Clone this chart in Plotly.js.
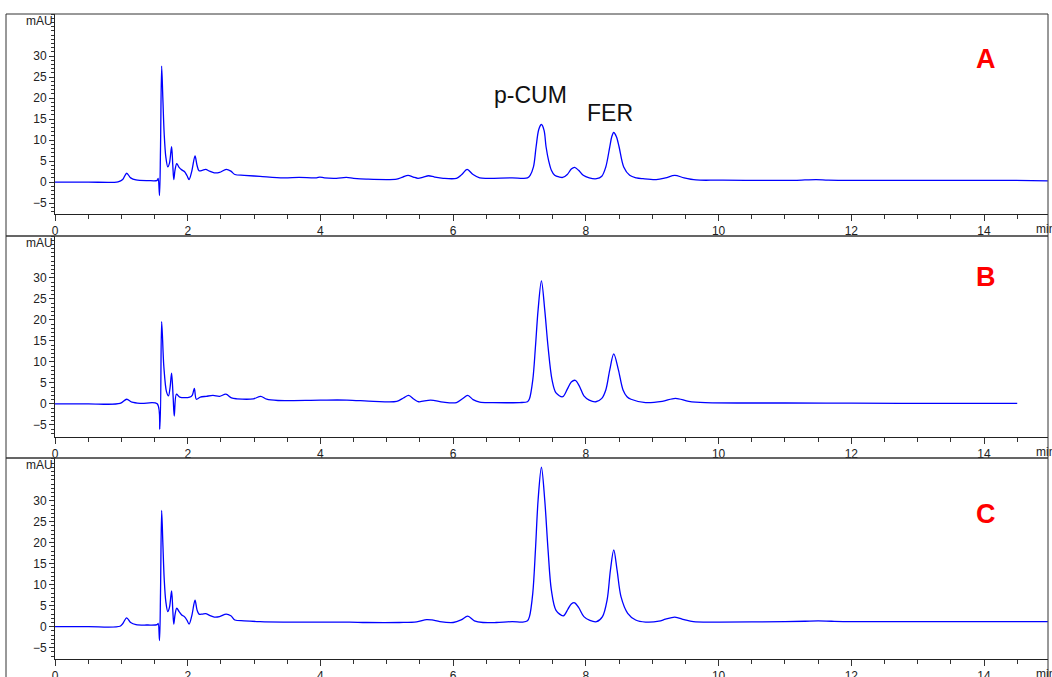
<!DOCTYPE html>
<html>
<head>
<meta charset="utf-8">
<script src="https://cdn.plot.ly/plotly-3.0.1.min.js"></script>
<style>
html,body{margin:0;padding:0;background:#fff;overflow:hidden;}
#chart{width:1052px;height:677px;}
</style>
</head>
<body>
<div id="chart"></div>
<script>
// ---- Data (time in min, signal in mAU) ----
const tA = [0,0.5,0.95,1.02,1.08,1.14,1.22,1.40,1.54,1.555,1.575,1.59,1.607,1.625,1.645,1.67,1.70,1.725,1.757,1.775,1.79,1.81,1.835,1.87,1.91,1.95,1.99,2.02,2.06,2.11,2.14,2.17,2.22,2.27,2.33,2.40,2.48,2.58,2.65,2.71,2.85,3.09,3.44,3.68,3.94,3.99,4.06,4.24,4.39,4.5,4.69,5.15,5.24,5.32,5.40,5.47,5.55,5.63,5.72,5.85,6.05,6.13,6.21,6.30,6.40,6.54,6.89,7.05,7.12,7.16,7.21,7.25,7.29,7.33,7.37,7.40,7.44,7.48,7.53,7.60,7.65,7.72,7.78,7.83,7.89,7.96,8.05,8.16,8.24,8.30,8.36,8.39,8.42,8.46,8.50,8.57,8.66,8.76,8.86,9.06,9.20,9.34,9.48,9.66,10.0,11.12,11.3,11.47,11.65,11.92,13.0,14.43,14.96];
const yA = [0,0,0.05,0.6,2.1,1.0,0.5,0.35,0.4,0.9,-3.2,8,27.6,20,11.6,6,3.6,4.5,8.4,4,0.6,3,4.4,3.5,2.9,2.5,1.5,0.6,2.5,6.2,4,2.7,2.8,3.0,2.6,2.2,2.3,3.0,2.6,1.8,1.6,1.35,1.0,1.1,1.0,1.2,1.0,0.9,1.1,0.9,0.7,0.7,1.2,1.6,1.2,0.9,1.2,1.5,1.2,0.9,0.9,1.8,3.0,1.8,1.0,0.9,1.0,0.9,1.0,1.6,3.6,8.4,12.5,13.7,12.3,8.4,5,2.8,1.6,1.2,1.1,1.8,3.1,3.5,2.8,1.6,1.0,0.8,1.4,3.6,8.4,10.8,11.8,10.8,8.4,3.6,1.6,1.0,0.8,0.6,1.0,1.6,1.0,0.5,0.45,0.4,0.5,0.6,0.45,0.4,0.4,0.4,0.3];

const tB = [0,0.5,0.98,1.08,1.16,1.3,1.54,1.58,1.607,1.64,1.68,1.71,1.735,1.757,1.78,1.797,1.83,1.88,2.03,2.07,2.10,2.13,2.19,2.28,2.38,2.48,2.575,2.66,2.74,2.99,3.10,3.19,3.36,4.0,4.4,4.8,5.15,5.25,5.33,5.41,5.48,5.66,5.85,6.05,6.14,6.22,6.30,6.40,6.6,7.0,7.12,7.15,7.20,7.24,7.28,7.33,7.38,7.43,7.49,7.55,7.65,7.72,7.78,7.84,7.90,7.97,8.05,8.15,8.24,8.30,8.36,8.42,8.49,8.56,8.62,8.68,8.90,9.15,9.35,9.55,9.8,11.0,12.0,13.5,14.5];
const yB = [0,0,0.1,1.1,0.4,0.1,0,-6.0,19.6,8.9,2.9,1.9,4,7.3,1.7,-2.9,2.3,1.6,1.6,2.1,3.7,1.1,1.6,1.8,2.0,1.8,2.3,1.4,1.2,1.2,1.8,1.1,0.8,0.9,0.9,0.6,0.6,1.4,2.0,1.1,0.5,0.9,0.4,0.3,1.2,2.0,1.0,0.4,0.3,0.3,0.5,1.2,5.7,13.6,22.4,29.3,22.4,13.6,5.7,2.6,1.7,3.5,5.2,5.6,4.3,1.9,0.9,0.5,1.3,3.3,8.1,11.9,8.1,3.3,1.7,1.1,0.3,0.6,1.3,0.6,0.3,0.2,0.15,0.1,0.1];

const tC = [0,0.5,0.98,1.02,1.08,1.14,1.22,1.40,1.54,1.555,1.575,1.59,1.607,1.625,1.645,1.67,1.70,1.725,1.757,1.775,1.79,1.81,1.835,1.87,1.91,1.95,1.99,2.02,2.06,2.11,2.14,2.17,2.22,2.27,2.33,2.40,2.48,2.58,2.65,2.71,2.85,3.09,3.44,3.94,4.44,4.69,5.19,5.45,5.60,5.68,5.80,6.0,6.12,6.22,6.32,6.45,6.65,6.89,7.05,7.12,7.15,7.20,7.24,7.28,7.33,7.38,7.43,7.48,7.55,7.66,7.73,7.78,7.83,7.89,7.97,8.06,8.16,8.25,8.32,8.37,8.42,8.47,8.53,8.63,8.75,8.90,9.10,9.20,9.34,9.48,9.62,10.02,11.0,11.3,11.5,11.7,12.0,14.96];
const yC = [0,0,0.1,0.7,2.1,1.0,0.5,0.4,0.5,0.8,-3.3,8,27.7,20,11.6,6,3.6,4.6,8.5,4,0.6,3,4.4,3.6,2.8,2.4,1.5,0.6,2.5,6.3,4,3.0,3.0,3.1,2.7,2.3,2.4,3.0,2.6,1.6,1.4,1.2,1.1,1.1,1.1,1.0,1.0,1.15,1.7,1.6,1.2,1.0,1.6,2.5,1.4,1.0,1.0,1.2,1.1,1.4,2.4,8.0,18.3,30.2,38.0,30.2,18.3,8.7,3.9,2.6,4.2,5.4,5.7,4.6,2.4,1.5,1.2,2.4,6.4,13.5,18.3,13.5,7.1,3.2,1.6,1.1,1.3,1.8,2.3,1.7,1.2,1.1,1.2,1.3,1.4,1.3,1.2,1.2];

const panelLabels = ["A", "B", "C"];
const peakNames = ["p-CUM", "FER"];
const yTickVals = [-5, 0, 5, 10, 15, 20, 25, 30];
const xTickVals = [0, 2, 4, 6, 8, 10, 12, 14];

// ---- Layout geometry (pixels) ----
const W = 1052, H = 677;
const px = v => v / W;
const py = v => (H - v) / H;
const plotLeft = 55, plotRight = 1048, boxLeft = 6;
const panels = [
  {top: 14,  bottom: 214, yr: [-7.6, 40.0], letterY: 59},
  {top: 236, bottom: 437, yr: [-7.9, 40.0], letterY: 277},
  {top: 458, bottom: 659, yr: [-7.7, 40.2], letterY: 514}
];
const boxTops = [14, 236, 458, 690];

const fontFam = '"Liberation Sans", Arial, Helvetica, sans-serif';
const series = [[tA, yA], [tB, yB], [tC, yC]];

const traces = series.map((s, i) => ({
  x: s[0], y: s[1],
  type: 'scatter', mode: 'lines',
  line: {color: '#0000ff', width: 1.3, shape: 'spline', smoothing: 0.9},
  xaxis: i === 0 ? 'x' : 'x' + (i + 1),
  yaxis: i === 0 ? 'y' : 'y' + (i + 1),
  hoverinfo: 'skip', showlegend: false
}));

const layout = {
  width: W, height: H,
  margin: {l: 0, r: 0, t: 0, b: 0, pad: 0},
  paper_bgcolor: '#ffffff', plot_bgcolor: '#ffffff',
  showlegend: false,
  font: {family: fontFam, size: 12, color: '#222'},
  shapes: [], annotations: []
};

panels.forEach((p, i) => {
  const xk = i === 0 ? 'xaxis' : 'xaxis' + (i + 1);
  const yk = i === 0 ? 'yaxis' : 'yaxis' + (i + 1);
  const xa = i === 0 ? 'x' : 'x' + (i + 1);
  const ya = i === 0 ? 'y' : 'y' + (i + 1);
  layout[xk] = {
    domain: [px(plotLeft), px(plotRight)],
    anchor: ya,
    range: [0, (plotRight - plotLeft) / 66.36],
    tickmode: 'array', tickvals: xTickVals,
    ticks: 'outside', ticklen: 6, tickwidth: 1, tickcolor: '#333',
    minor: {tickmode: 'linear', tick0: 0, dtick: 0.5, ticks: 'outside', ticklen: 4, tickcolor: '#333', tickwidth: 1},
    showline: true, linecolor: '#222', linewidth: 1,
    showgrid: false, zeroline: false,
    tickfont: {family: fontFam, size: 12, color: '#222'},
    fixedrange: true
  };
  layout[yk] = {
    domain: [py(p.bottom), py(p.top)],
    anchor: xa,
    range: p.yr,
    tickmode: 'array', tickvals: yTickVals,
    ticks: 'outside', ticklen: 5, tickwidth: 1, tickcolor: '#333',
    minor: {tickmode: 'linear', tick0: 0, dtick: 1, ticks: 'outside', ticklen: 3, tickcolor: '#333', tickwidth: 1},
    showline: true, linecolor: '#222', linewidth: 1,
    showgrid: false, zeroline: false,
    tickfont: {family: fontFam, size: 12, color: '#222'},
    fixedrange: true
  };
  // outer frame of each panel
  layout.shapes.push({
    type: 'rect', xref: 'paper', yref: 'paper',
    x0: px(boxLeft), x1: px(plotRight), y0: py(boxTops[i + 1]), y1: py(boxTops[i]),
    line: {color: '#333', width: 1}, fillcolor: 'rgba(0,0,0,0)', layer: 'above'
  });
  // mAU unit label
  layout.annotations.push({
    xref: 'paper', yref: 'paper', x: px(plotLeft), y: py(p.top + 7),
    xanchor: 'right', yanchor: 'middle', showarrow: false,
    text: 'mAU', font: {family: fontFam, size: 12, color: '#222'}
  });
  // min unit label
  layout.annotations.push({
    xref: 'paper', yref: 'paper', x: px(1034), y: py(p.bottom + 15),
    xanchor: 'left', yanchor: 'middle', showarrow: false,
    text: 'min', font: {family: fontFam, size: 12, color: '#222'}
  });
  // panel letter
  layout.annotations.push({
    xref: 'paper', yref: 'paper', x: px(986), y: py(p.letterY),
    xanchor: 'center', yanchor: 'middle', showarrow: false,
    text: '<b>' + panelLabels[i] + '</b>', font: {family: fontFam, size: 27, color: '#ff0000'}
  });
});

// peak names on panel A
layout.annotations.push({
  xref: 'paper', yref: 'paper', x: px(530), y: py(95),
  xanchor: 'center', yanchor: 'middle', showarrow: false,
  text: peakNames[0], font: {family: fontFam, size: 23, color: '#111'}
});
layout.annotations.push({
  xref: 'paper', yref: 'paper', x: px(610), y: py(113),
  xanchor: 'center', yanchor: 'middle', showarrow: false,
  text: peakNames[1], font: {family: fontFam, size: 23, color: '#111'}
});

Plotly.newPlot('chart', traces, layout, {staticPlot: true, displayModeBar: false});
</script>
</body>
</html>
